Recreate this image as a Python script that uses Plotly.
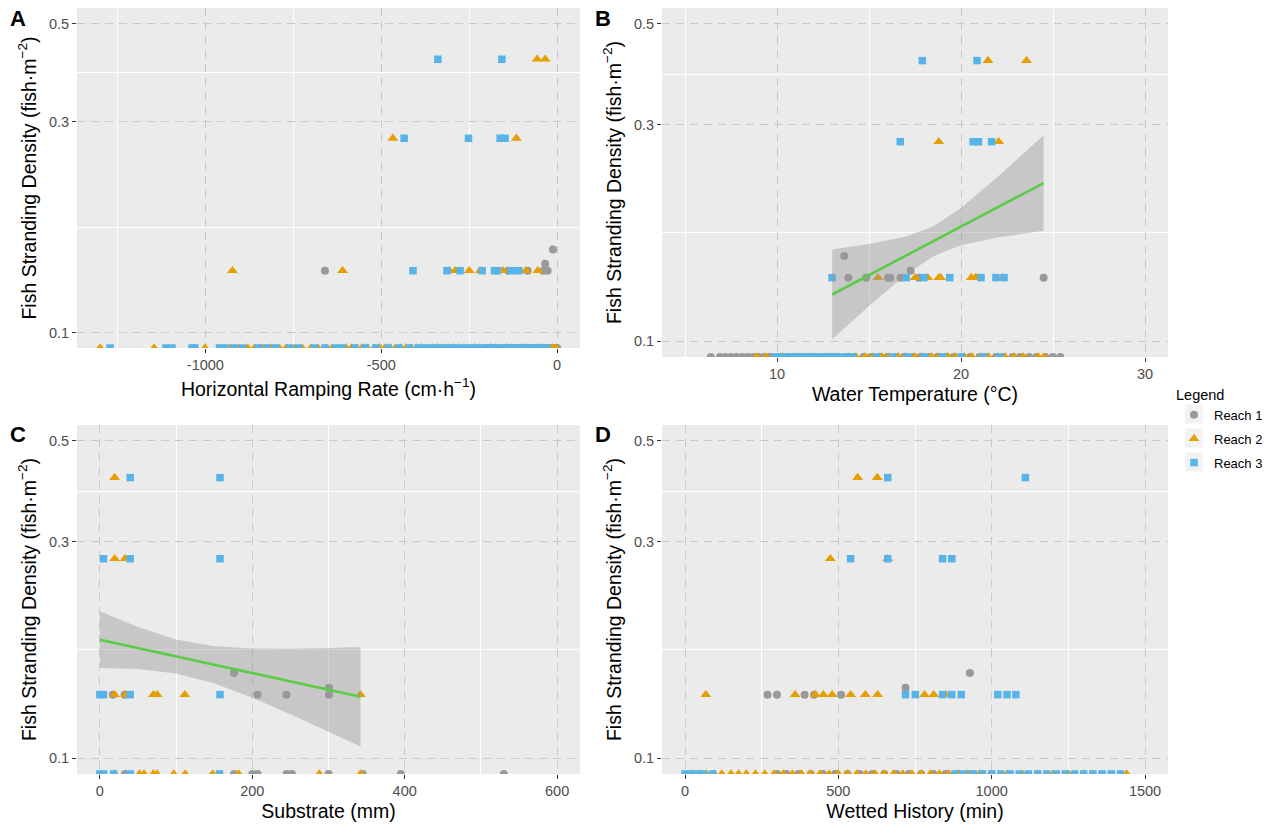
import math
import plotly.graph_objects as go

# ---------------------------------------------------------------------------
# Fish stranding density (fish per m^2) observations, split by reach.
# Samples with zero density are kept in the *_zero_x lists (density = 0).
# ---------------------------------------------------------------------------

# Panel A: horizontal ramping rate (cm/h)
ramp_r1_x = [-660, -139, -84, -40, -27, -12, -34]
ramp_r1_y = [0.138, 0.138, 0.138, 0.138, 0.138, 0.154, 0.143]
ramp_r2_x = [-57, -34, -467, -116, -923, -610, -307, -290, -250, -219, -154, -89, -55]
ramp_r2_y = [0.415, 0.415, 0.275, 0.275, 0.138, 0.138, 0.138, 0.138, 0.138, 0.138, 0.138, 0.138, 0.138]
ramp_r3_x = [-339, -157, -435, -252, -162, -148, -410, -313, -276, -213, -178, -170, -130, -109]
ramp_r3_y = [0.415, 0.415, 0.275, 0.275, 0.275, 0.275, 0.138, 0.138, 0.138, 0.138, 0.138, 0.138, 0.138, 0.138]
ramp_r1_zero_x = [-200, -180, -160, -140, -120, -105, -95, -80, -68, -55, -45, -35, -25, -15, -8, -3, 0]
ramp_r2_zero_x = [-1299, -1146, -1001, -955, -930, -905, -880, -860, -840, -812, -790, -770, -745, -725,
                  -700, -680, -655, -640, -620, -600, -585, -570, -555, -540, -520, -505, -490, -475,
                  -460, -445, -430, -415, -400, -385, -370, -355, -340, -325, -310, -295, -280, -265,
                  -250, -235, -220, -205, -190, -175, -160, -145, -130, -115, -100, -85, -70, -55,
                  -40, -25, -12, -3]
ramp_r3_zero_x = [-1271, -1112, -1095, -1038, -1030, -960, -945, -920, -895, -850, -825, -800, -760,
                  -735, -690, -660, -630, -610, -575, -545, -515, -480, -450, -420, -395, -378, -362,
                  -345, -330, -318, -300, -288, -270, -258, -240, -228, -212, -198, -183, -170, -155,
                  -140, -125, -108, -92, -78, -60, -45, -30]

# Panel B: water temperature (deg C)
temp_r1_x = [13.88, 14.84, 16.04, 16.16, 16.71, 17.71, 24.49, 13.66, 17.26]
temp_r1_y = [0.138, 0.138, 0.138, 0.138, 0.138, 0.138, 0.138, 0.154, 0.143]
temp_r2_x = [21.47, 23.56, 18.79, 22.05, 15.49, 17.5, 18.19, 18.79, 18.89, 20.56, 20.78, 20.9, 22.26]
temp_r2_y = [0.415, 0.415, 0.275, 0.275, 0.138, 0.138, 0.138, 0.138, 0.138, 0.138, 0.138, 0.138, 0.138]
temp_r3_x = [17.9, 20.87, 16.7, 20.66, 20.95, 21.66, 12.99, 17.02, 17.98, 19.39, 21.09, 21.9, 22.34]
temp_r3_y = [0.415, 0.415, 0.275, 0.275, 0.275, 0.275, 0.138, 0.138, 0.138, 0.138, 0.138, 0.138, 0.138]
temp_r1_zero_x = [6.4, 6.9, 7.2, 7.5, 7.8, 8.1, 8.4, 8.7, 9.0, 9.3, 9.6, 10.2, 10.6, 11.1, 11.5, 12.0,
                  12.4, 12.9, 13.3, 13.8, 14.2, 14.7, 15.1, 15.6, 16.0, 16.5, 16.9, 17.4, 17.8, 18.3,
                  18.7, 19.2, 19.6, 20.1, 20.5, 21.0, 21.4, 21.9, 22.3, 22.8, 23.2, 23.7, 24.1, 24.6,
                  25.0, 25.4]
temp_r2_zero_x = [8.9, 9.4, 10.3, 10.9, 11.7, 12.6, 13.1, 13.9, 14.3, 14.8, 15.2, 15.7, 16.1, 16.6,
                  17.0, 17.5, 17.9, 18.4, 18.8, 19.3, 19.7, 20.2, 20.6, 21.1, 21.5, 22.0, 22.4, 22.9,
                  23.4, 24.2, 24.5]
temp_r3_zero_x = [9.9, 10.2, 10.5, 10.8, 11.1, 11.4, 11.7, 12.0, 12.3, 12.6, 12.9, 13.2, 13.5, 13.8,
                  14.1, 15.4, 16.3, 17.1, 18.0, 19.0, 20.0, 21.2, 22.1]

# Panel C: substrate (mm)
subs_r1_x = [17, 32.5, 207, 244.8, 300.6, 176, 300.6]
subs_r1_y = [0.138, 0.138, 0.138, 0.138, 0.138, 0.154, 0.143]
subs_r2_x = [19.4, 19.4, 33, 19.4, 34, 70.3, 75.2, 111.5, 341.8]
subs_r2_y = [0.415, 0.275, 0.275, 0.138, 0.138, 0.138, 0.138, 0.138, 0.138]
subs_r3_x = [39.8, 157.6, 4.8, 39.8, 157.6, 0, 4.8, 39.8, 157.6]
subs_r3_y = [0.415, 0.415, 0.275, 0.275, 0.275, 0.138, 0.138, 0.138, 0.138]
subs_r1_zero_x = [33, 176, 200, 207, 245, 252, 300, 345, 395, 530]
subs_r2_zero_x = [19.4, 52, 58, 70, 75, 97, 112, 148, 182, 288, 342]
subs_r3_zero_x = [0, 5, 18, 40, 157]

# Panel D: wetted history (min)
wet_r1_x = [269, 300, 390, 421, 509, 929, 719]
wet_r1_y = [0.138, 0.138, 0.138, 0.138, 0.138, 0.154, 0.143]
wet_r2_x = [563, 627, 474, 661, 68, 359, 425, 451, 480, 540, 588, 628, 781, 811, 850]
wet_r2_y = [0.415, 0.415, 0.275, 0.275, 0.138, 0.138, 0.138, 0.138, 0.138, 0.138, 0.138, 0.138,
            0.138, 0.138, 0.138]
wet_r3_x = [661, 1110, 540, 661, 840, 870, 719, 751, 840, 870, 901, 1020, 1050, 1079]
wet_r3_y = [0.415, 0.415, 0.275, 0.275, 0.275, 0.275, 0.138, 0.138, 0.138, 0.138, 0.138, 0.138,
            0.138, 0.138]
wet_r1_zero_x = [300, 330, 370, 410, 450, 490, 530, 570, 610, 650, 690, 730, 770, 810, 850, 890,
                 930, 970, 1000]
wet_r2_zero_x = [20, 45, 70, 95, 120, 150, 175, 200, 230, 260, 290, 320, 350, 380, 410, 440, 470,
                 500, 530, 560, 590, 620, 650, 680, 710, 740, 770, 800, 830, 860, 890, 920, 960,
                 1000, 1050, 1100, 1150, 1200, 1250, 1300, 1330, 1440]
wet_r3_zero_x = [0, 20, 40, 60, 90, 880, 910, 940, 970, 1000, 1030, 1060, 1090, 1120, 1150, 1180,
                 1210, 1240, 1270, 1300, 1330, 1360, 1390, 1420]

# Linear-model smooths (log density) with 95% confidence band
temp_fit_x = [13.0, 15.0, 17.0, 18.5, 20.0, 22.0, 24.49]
temp_fit_y = [0.1267, 0.1398, 0.1543, 0.1661, 0.1788, 0.1972, 0.2230]
temp_fit_lo = [0.1009, 0.1195, 0.1400, 0.1539, 0.1627, 0.1692, 0.1750]
temp_fit_hi = [0.1591, 0.1636, 0.1700, 0.1792, 0.1965, 0.2301, 0.2842]

subs_fit_x = [0, 50, 100, 150, 200, 250, 300, 342]
subs_fit_y = [0.1824, 0.1748, 0.1675, 0.1606, 0.1539, 0.1476, 0.1415, 0.1365]
subs_fit_lo = [0.1580, 0.1571, 0.1537, 0.1462, 0.1359, 0.1250, 0.1145, 0.1061]
subs_fit_hi = [0.2106, 0.1945, 0.1826, 0.1764, 0.1744, 0.1742, 0.1748, 0.1757]

reach_names = ["Reach 1", "Reach 2", "Reach 3"]
y_ticks = [0.1, 0.3, 0.5]

# ---------------------------------------------------------------------------
# Styling
# ---------------------------------------------------------------------------
W, H = 1268, 826
FONT = "Liberation Sans, Arial, sans-serif"
COLORS = ["#999999", "#E69F00", "#56B4E9"]
SYMBOLS = ["circle", "triangle-up", "square"]
SIZES = [8, 9.5, 7.5]
PANEL_BG = "#EBEBEB"
DASH_GRID = "#C8C8C8"
FIT_LINE = "#5CCB48"
FIT_BAND = "rgba(150,150,150,0.42)"

# log10 scale with 5% expansion around the 0.1-0.5 limits
lo_log, hi_log = math.log10(0.1), math.log10(0.5)
pad = 0.05 * (hi_log - lo_log)
y_range = [lo_log - pad, hi_log + pad]
y_floor = 10 ** y_range[0]      # zero densities sit on the lower panel edge (log of 0)
y_minor = [math.sqrt(y_ticks[i] * y_ticks[i + 1]) for i in range(len(y_ticks) - 1)]

YTITLE = "Fish Stranding Density (fish·m<sup>−2</sup>)"

panels = [
    dict(tag="A", left=77, right=580, top=8, bottom=348, xrange=[-1365, 65],
         xticks=[-1000, -500, 0], xminor=[-1250, -750, -250],
         xtitle="Horizontal Ramping Rate (cm·h<sup>−1</sup>)", xstand=9,
         data=[(ramp_r1_x, ramp_r1_y, ramp_r1_zero_x),
               (ramp_r2_x, ramp_r2_y, ramp_r2_zero_x),
               (ramp_r3_x, ramp_r3_y, ramp_r3_zero_x)],
         fit=None),
    dict(tag="B", left=662, right=1168, top=8, bottom=357, xrange=[3.75, 31.25],
         xticks=[10, 20, 30], xminor=[5, 15, 25],
         xtitle="Water Temperature (°C)", xstand=5,
         data=[(temp_r1_x, temp_r1_y, temp_r1_zero_x),
               (temp_r2_x, temp_r2_y, temp_r2_zero_x),
               (temp_r3_x, temp_r3_y, temp_r3_zero_x)],
         fit=(temp_fit_x, temp_fit_y, temp_fit_lo, temp_fit_hi)),
    dict(tag="C", left=77, right=580, top=425, bottom=774, xrange=[-30, 630],
         xticks=[0, 200, 400, 600], xminor=[100, 300, 500],
         xtitle="Substrate (mm)", xstand=5,
         data=[(subs_r1_x, subs_r1_y, subs_r1_zero_x),
               (subs_r2_x, subs_r2_y, subs_r2_zero_x),
               (subs_r3_x, subs_r3_y, subs_r3_zero_x)],
         fit=(subs_fit_x, subs_fit_y, subs_fit_lo, subs_fit_hi)),
    dict(tag="D", left=662, right=1168, top=425, bottom=774, xrange=[-75, 1575],
         xticks=[0, 500, 1000, 1500], xminor=[250, 750, 1250],
         xtitle="Wetted History (min)", xstand=5,
         data=[(wet_r1_x, wet_r1_y, wet_r1_zero_x),
               (wet_r2_x, wet_r2_y, wet_r2_zero_x),
               (wet_r3_x, wet_r3_y, wet_r3_zero_x)],
         fit=None),
]

fig = go.Figure()
layout = dict(
    width=W, height=H,
    margin=dict(l=0, r=0, t=0, b=0),
    paper_bgcolor="white",
    plot_bgcolor=PANEL_BG,
    font=dict(family=FONT, color="#000000"),
    annotations=[], shapes=[],
)

tick_font = dict(family=FONT, size=14.5, color="#4D4D4D")
title_font = dict(family=FONT, size=19.5, color="#000000")

for i, p in enumerate(panels):
    n = "" if i == 0 else str(i + 1)
    xa, ya = "x" + n, "y" + n

    for r in range(3):
        xs, ys, zx = p["data"][r]
        fig.add_trace(go.Scatter(
            x=list(xs) + list(zx),
            y=list(ys) + [y_floor for _ in zx],
            mode="markers", xaxis=xa, yaxis=ya,
            name=reach_names[r], legendgroup=reach_names[r], showlegend=(i == 0),
            marker=dict(symbol=SYMBOLS[r], size=SIZES[r], color=COLORS[r], line=dict(width=0)),
            cliponaxis=True, hoverinfo="x+y+name",
        ))

    if p["fit"] is not None:
        fx, fy, flo, fhi = p["fit"]
        fig.add_trace(go.Scatter(
            x=list(fx) + list(fx)[::-1], y=list(fhi) + list(flo)[::-1],
            mode="lines", fill="toself", fillcolor=FIT_BAND, line=dict(width=0),
            xaxis=xa, yaxis=ya, showlegend=False, hoverinfo="skip",
        ))
        fig.add_trace(go.Scatter(
            x=fx, y=fy, mode="lines", line=dict(color=FIT_LINE, width=2.6),
            xaxis=xa, yaxis=ya, showlegend=False, hoverinfo="skip",
        ))

    grid_common = dict(
        ticks="outside", ticklen=4, tickwidth=1, tickcolor="#333333",
        tickfont=tick_font, showline=False, zeroline=False,
        showgrid=True, gridcolor=DASH_GRID, gridwidth=1.1, griddash="8px,6px",
    )
    layout["xaxis" + n] = dict(
        domain=[p["left"] / W, p["right"] / W], anchor=ya, range=p["xrange"],
        tickvals=p["xticks"], ticktext=[str(v) for v in p["xticks"]],
        minor=dict(tickvals=p["xminor"], showgrid=True, gridcolor="white", gridwidth=1,
                   griddash="solid", ticks=""),
        title=dict(text=p["xtitle"], font=title_font, standoff=p["xstand"]),
        **grid_common,
    )
    layout["yaxis" + n] = dict(
        domain=[1 - p["bottom"] / H, 1 - p["top"] / H], anchor=xa, type="log", range=y_range,
        tickvals=y_ticks, ticktext=[str(v) for v in y_ticks],
        minor=dict(tickvals=y_minor, showgrid=True, gridcolor="white", gridwidth=1,
                   griddash="solid", ticks=""),
        title=dict(text=YTITLE, font=title_font, standoff=7),
        **grid_common,
    )
    layout["annotations"].append(dict(
        text="<b>%s</b>" % p["tag"], xref="paper", yref="paper",
        x=(p["left"] - 77 + 8) / W, y=1 - (p["top"] + 10) / H,
        xanchor="left", yanchor="middle", showarrow=False,
        font=dict(family=FONT, size=22, color="#000000"),
    ))

# grey key backgrounds behind the legend symbols
LEG_LEFT, LEG_TOP = 1174, 381
for k in range(3):
    cy = 414 + 24 * k
    layout["shapes"].append(dict(
        type="rect", xref="paper", yref="paper", layer="below",
        x0=(LEG_LEFT + 11) / W, x1=(LEG_LEFT + 29) / W, y0=1 - (cy + 9.5) / H, y1=1 - (cy - 9.5) / H,
        fillcolor="#F2F2F2", line=dict(width=0),
    ))

layout["legend"] = dict(
    x=LEG_LEFT / W, y=1 - LEG_TOP / H, xanchor="left", yanchor="top",
    title=dict(text="Legend", font=dict(family=FONT, size=14.5, color="#000000")),
    font=dict(family=FONT, size=13, color="#000000"),
    bgcolor="rgba(0,0,0,0)", borderwidth=0, tracegroupgap=4, itemsizing="trace",
)

fig.update_layout(**layout)
fig.write_html("out.html")
